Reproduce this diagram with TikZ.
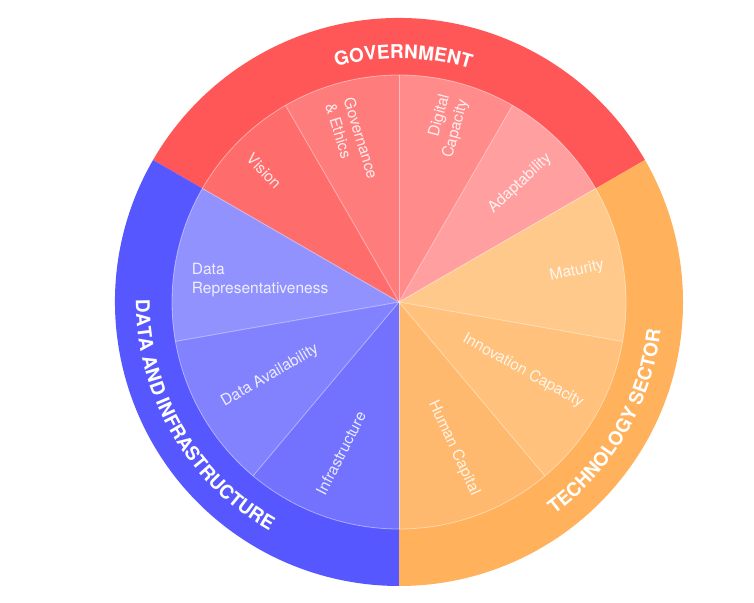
\documentclass[tikz,border=0pt]{standalone}
\usepackage{fontspec}
\setmainfont{TeX Gyre Heros}
\usetikzlibrary{decorations.text}
\definecolor{govout}{HTML}{FF5757}
\definecolor{vision}{HTML}{FF6C6C}
\definecolor{govern}{HTML}{FF7C7C}
\definecolor{digital}{HTML}{FF8B8B}
\definecolor{adapt}{HTML}{FF9F9F}
\definecolor{techout}{HTML}{FFB15B}
\definecolor{maturity}{HTML}{FFC98B}
\definecolor{innov}{HTML}{FFC17B}
\definecolor{human}{HTML}{FFB96E}
\definecolor{dataout}{HTML}{5757FF}
\definecolor{datarep}{HTML}{9292FF}
\definecolor{avail}{HTML}{8282FF}
\definecolor{infra}{HTML}{7272FF}
\newcommand\mywedge[4]{\fill[#1] (0,0) -- (#2:#4) arc[start angle=#2, end angle=#3, radius=#4] -- cycle;}
\begin{document}
\begin{tikzpicture}[x=1pt,y=1pt,
  inlab/.style={text=white, text opacity=0.85, font=\fontsize{15.5}{19}\selectfont, inner sep=0pt},
  sepline/.style={draw=white, draw opacity=0.45, line width=0.8pt},
  ringtext/.style={decorate, decoration={text along path, text align=center, text color=white, text={|\fontsize{19}{19}\selectfont\bfseries|#1}}}]
\useasboundingbox (0,0) rectangle (754,602);
\fill[white] (0,0) rectangle (754,602);
\begin{scope}[shift={(399,300)}]
  % outer ring sections
  \mywedge{govout}{30}{150}{284}
  \mywedge{dataout}{150}{270}{284}
  \mywedge{techout}{-90}{30}{284}
  % inner wedges
  \mywedge{adapt}{30}{60}{227}
  \mywedge{digital}{60}{90}{227}
  \mywedge{govern}{90}{120}{227}
  \mywedge{vision}{120}{150}{227}
  \mywedge{datarep}{150}{190}{227}
  \mywedge{avail}{190}{230}{227}
  \mywedge{infra}{230}{270}{227}
  \mywedge{human}{-90}{-50}{227}
  \mywedge{innov}{-50}{-10}{227}
  \mywedge{maturity}{-10}{30}{227}
  % separator lines
  \draw[sepline] (0,0) circle[radius=227];
  \foreach \a in {30,60,90,120,150,190,230,270,310,350}
    \draw[sepline] (0,0) -- (\a:227);
  % inner labels
  \node[inlab, rotate=-46] (vision) at (135.9:188) {Vision};
  \node[inlab, rotate=-73, align=left] (govern) at (106.3:168) {Governance\\\& Ethics};
  \node[inlab, rotate=75, align=right] (digital) at (74.8:182) {Digital\\Capacity};
  \node[inlab, rotate=43] (adapt) at (44.4:169.5) {Adaptability};
  \node[inlab, rotate=12] (maturity) at (9.9:180.7) {Maturity};
  \node[inlab, rotate=-29] (innov) at (-29:142) {Innovation Capacity};
  \node[inlab, rotate=-65] (human) at (-69.4:156) {Human Capital};
  \node[inlab, rotate=63] (infra) at (249:162) {Infrastructure};
  \node[inlab, rotate=30] (avail) at (209.8:148.6) {Data Availability};
  \node[inlab, anchor=west, align=left] (rep) at (-207.3,21.6) {Data\\Representativeness};
  % ring labels
  \path[ringtext={GOVERNMENT}] (150:243.5) arc[start angle=150, end angle=28, radius=243.5];
  \path[ringtext={DATA AND INFRASTRUCTURE}] (150:263) arc[start angle=150, end angle=270, radius=263];
  \path[ringtext={TECHNOLOGY SECTOR}] (-90:263) arc[start angle=-90, end angle=30, radius=263];
\end{scope}
\end{tikzpicture}
\end{document}
